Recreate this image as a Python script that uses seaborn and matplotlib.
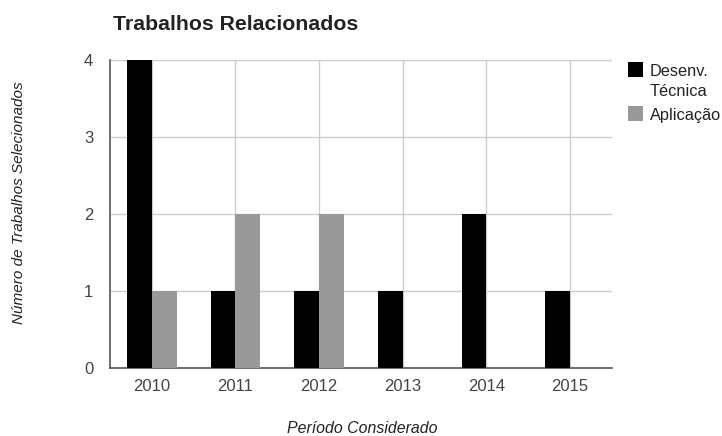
import matplotlib
matplotlib.use("Agg")
import matplotlib.pyplot as plt
import seaborn as sns
import pandas as pd
from matplotlib.patches import Rectangle

years = ["2010", "2011", "2012", "2013", "2014", "2015"]
desenv_tecnica = [4, 1, 1, 1, 2, 1]
aplicacao = [1, 2, 2, 0, 0, 0]
series_names = ["Desenv. Técnica", "Aplicação"]
series_colors = ["#000000", "#999999"]
y_ticks = [0, 1, 2, 3, 4]

df = pd.DataFrame({
    "Ano": years * 2,
    "Valor": desenv_tecnica + aplicacao,
    "Série": [series_names[0]] * len(years) + [series_names[1]] * len(years),
})

sns.set_theme(style="white")
plt.rcParams["font.family"] = ["Liberation Sans", "DejaVu Sans"]

W, H = 722, 436
fig = plt.figure(figsize=(W / 100, H / 100), dpi=100)
ax = fig.add_axes([110 / W, 1 - 368 / H, 502 / W, 308 / H])

sns.barplot(data=df, x="Ano", y="Valor", hue="Série", palette=series_colors,
            order=years, hue_order=series_names, width=0.59, dodge=True,
            saturation=1, legend=False, ax=ax, zorder=3, linewidth=0)

ax.set_xlim(-0.5, len(years) - 0.5)
ax.set_ylim(0, 4)
ax.set_yticks(y_ticks)
ax.set_yticklabels([str(t) for t in y_ticks])
ax.grid(True, color="#cccccc", linewidth=1, zorder=0)
ax.set_axisbelow(True)
for s in ["top", "right"]:
    ax.spines[s].set_visible(False)
ax.spines["left"].set_color("#555555")
ax.spines["bottom"].set_color("#555555")
ax.spines["left"].set_linewidth(1.2)
ax.spines["bottom"].set_linewidth(1.2)
ax.tick_params(axis="both", length=0, labelsize=12, labelcolor="#444444")
ax.tick_params(axis="y", pad=12)
ax.tick_params(axis="x", pad=8)
ax.set_xlabel("")
ax.set_ylabel("")


def px(x, y):
    return x / W, 1 - y / H


fig.text(*px(113, 30), "Trabalhos Relacionados", fontsize=15.3,
         fontweight="bold", color="#222222", ha="left", va="baseline")
fig.text(*px(362, 433), "Período Considerado", fontsize=11.4,
         style="italic", color="#222222", ha="center", va="baseline")
fig.text(*px(19, 203), "Número de Trabalhos Selecionados",
         fontsize=11, style="italic", color="#222222", rotation=90,
         ha="center", va="center")

# legend drawn by hand so the swatch sits beside the first text line
legend_rows = [(["Desenv.", "Técnica"], series_colors[0], 62),
               (["Aplicação"], series_colors[1], 106)]
for lines, color, top in legend_rows:
    fig.add_artist(Rectangle(px(628, top + 15), 15 / W, 15 / H,
                             transform=fig.transFigure, color=color, lw=0))
    for i, line in enumerate(lines):
        fig.text(*px(650, top + 14 + 20 * i), line, fontsize=11.8,
                 color="#222222", ha="left", va="baseline")

fig.savefig("out.png", dpi=100)
